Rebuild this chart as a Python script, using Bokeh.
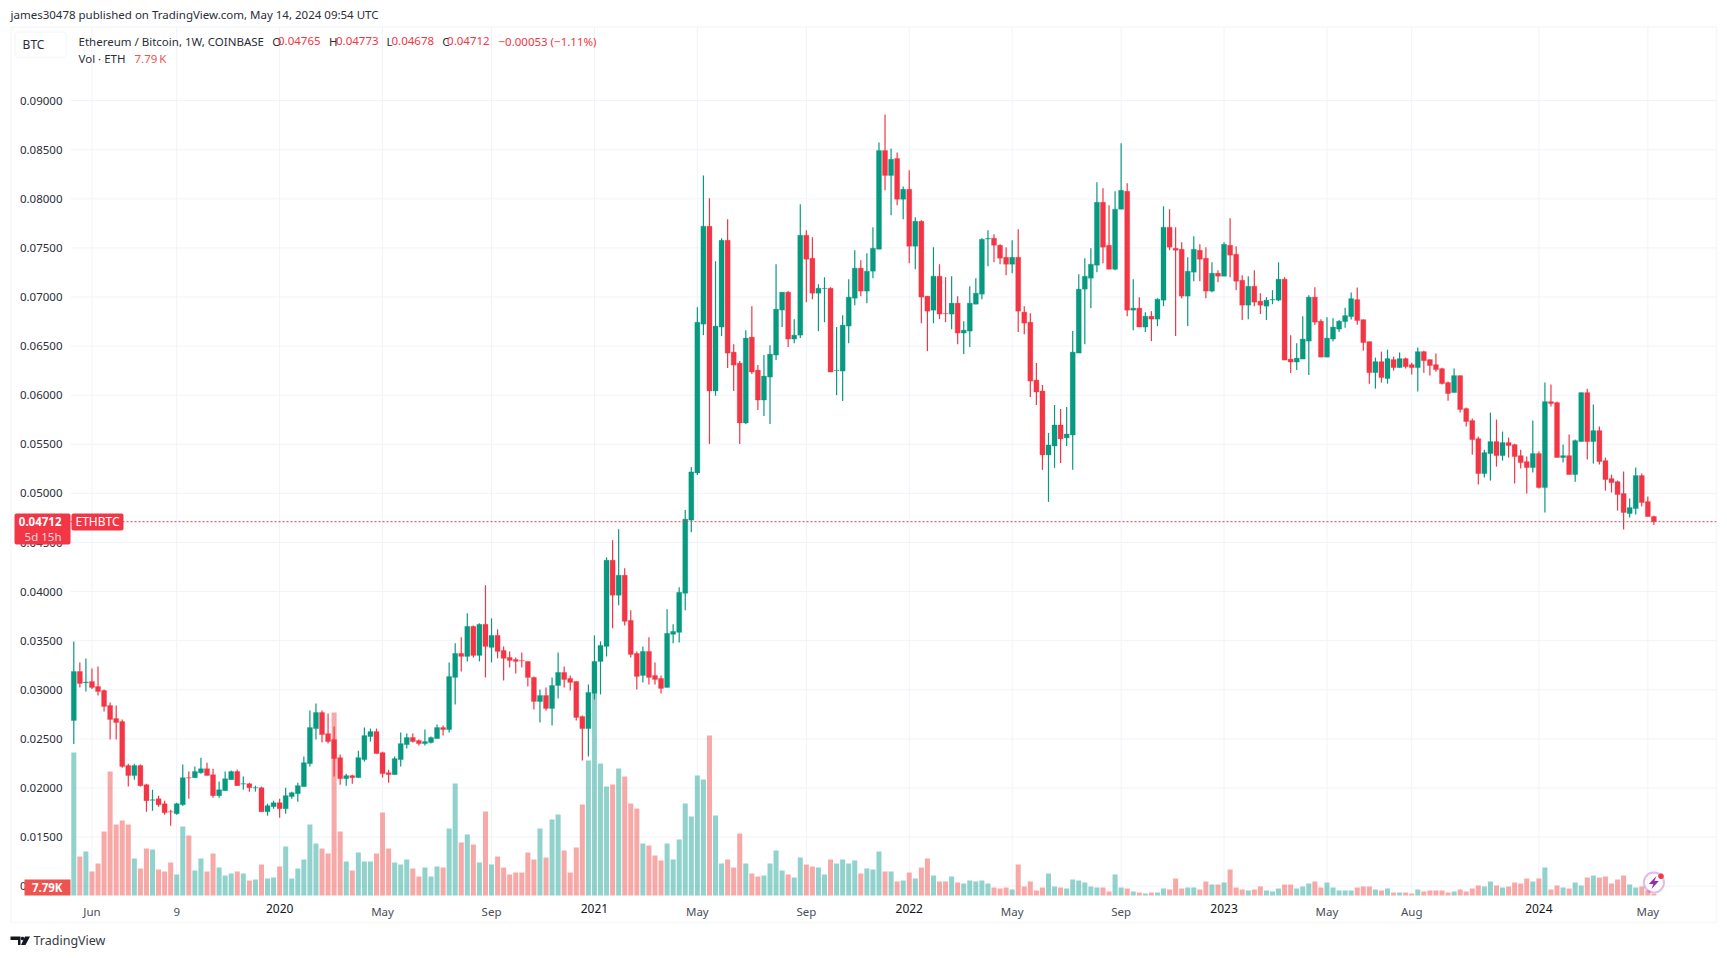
import numpy as np
from bokeh.plotting import figure
from bokeh.models import (Range1d, LinearAxis, FixedTicker, NumeralTickFormatter, Label,
                          BoxAnnotation, PolyAnnotation, ColumnDataSource)
from bokeh.embed import file_html
from bokeh.resources import INLINE

# Weekly ETH/BTC, 2019-05-13 to 2024-05-13, prices in units of 0.0001 BTC
open_ = [268.7,318.7,307.3,308.5,303.4,299.3,284,270.7,267.7,222.8,
212.6,222.8,203.4,187.5,189.1,184,175.8,173.8,183,210.5,
210.5,215.6,219.7,213.6,192.2,197.3,208.5,216.7,204,204.4,
200,200.3,175.8,181,185,178.9,191.2,194.2,201.4,224.8,
260.5,276.9,255.4,249.3,230.9,209.5,212.6,210.5,228.9,252.4,
257.5,236,215.6,213.6,228.9,244.2,251.4,248.3,245.2,246.3,
250.3,261.6,259.5,312.6,337.1,334,364.6,335,366.7,343.2,
355.4,340.1,333,330.9,329.7,328.9,312.6,288.1,294.2,281,
304.4,317.7,311.6,308.5,272.8,260.5,296.3,328.9,344.2,432,
396.3,416.7,370.7,337.1,314.6,339.1,314.6,311.6,302.4,356.5,
358.5,398.3,472.8,520.9,672.4,772.1,604.3,669.4,757.8,643.9,
632.7,571.7,659.2,625.6,595.1,618.5,640.9,686.7,705,657.2,
661.2,762.9,739.5,703.9,708.5,709,625,624.6,670.4,698.8,
729.4,706,726.3,748.7,849.3,823.9,841.2,799.5,809.7,751.7,
777.1,700.9,686.6,721.2,683.3,682.6,693.8,663.3,665.3,692.7,
702.9,759,759.9,752.7,740.5,733.4,740.5,684.6,674.4,615.4,
604.3,539.2,548.3,569.7,556.5,559.5,642.9,708,719.2,732.4,
796.5,752.7,728.3,789.4,807.7,686.6,688.7,669.4,680.5,677.5,
696.8,771.1,749.7,748.7,700.9,725.3,747.6,739.5,706,724.3,
721.2,752.7,743.6,717.1,691.7,711,695.8,690.7,697,696.8,
718.2,636.8,633.8,636.8,655.1,699.9,675.4,638.8,657.2,667.3,
675,680,697.4,677,654.6,623,634.2,617,636.3,628.1,
637.3,631.2,628.1,644.4,636.3,631.2,627.1,612.9,602.7,620,
586.4,574.2,555.8,520.2,540.6,552.8,538.5,551.8,549.7,538.5,
532.4,526.3,540.6,506,593.5,592.5,536.5,538.5,519.2,552.8,
602.7,552.8,564,533.4,515.1,512,499.9,479.5,484.6,518.2,
491.7,476.5]
high = [349.3,327.9,331.9,321.8,323.8,300.3,287.1,284,269.7,224.8,
224.8,223.8,204.4,198.3,192.2,187.1,177.9,185,223.8,216.7,
221.8,230.9,225.8,219.7,206.5,216.7,217.7,218.7,211.6,205.4,
202.4,201.4,184,187.1,189.1,200.3,196.3,205.4,232,278.9,
286,278.9,275.8,262.6,234,214.6,213.6,238,261.6,260.5,
260.5,237,218.7,232,256.5,255.4,255.4,249.3,259.5,252.4,
264.6,263.6,327.9,347.3,353.4,377.9,365.6,367.7,406.5,372.8,
361.6,344.2,339.1,333,338,328.9,313.6,300.3,302.4,312.6,
338,323.8,314.6,308.5,273.8,305.4,355.4,349.3,435,452.4,
463.6,423.8,380.9,339.1,344.2,353.4,327.9,314.6,382,366.7,
404.4,483,527,689.7,823.9,800.5,736.5,759.9,779.2,652,
634.8,666.3,690.7,630.7,640.9,651,733.4,705,706,677.5,
794.4,768,760.9,713,720.2,710,669.4,681.5,718.2,747.6,
737.5,744.6,771.1,857.5,886,851.4,847.3,812.7,829,781.2,
778.2,700.9,750.7,733.4,720.2,721.2,700.9,675.4,711,719.2,
759.9,768,764,753.8,750.7,757.8,769,690.7,683.6,632.7,
610.4,561.6,590,586,588,665.3,723.3,739.5,749.7,816.8,
810.7,793.4,807.7,856.5,815.8,718.2,699.9,684.6,685.6,698.8,
792.4,789.4,771.1,755.8,740.5,761.9,753.8,750.7,735.4,727.3,
755.8,780.2,751.7,722.2,721.2,727.3,703.9,699.9,707,735.4,
720.2,661.2,653,680.5,701.9,710,677.5,679.5,678.5,676.5,
689.2,704.5,709.6,677,654.6,638.3,644.4,646.4,639.3,643.4,
638.3,633.2,648.5,645.4,636.3,642.4,628.1,613.9,627.1,620,
587.4,576.2,557.9,544.6,582.3,575.2,563,556.9,550.7,544.6,
537.5,574.2,542.6,612.9,610.8,593.5,549.7,559.9,554.8,602.7,
606.7,590.5,568.1,536.5,519.2,513.1,522.2,494.8,526.3,520.2,
496.8,477.3]
low = [244.9,302.4,298.3,300.7,294.2,277.9,249.3,249.3,220.7,201.4,
208.5,201.4,175.8,176.9,180.9,172.8,161.6,172.8,181.9,189.1,
210.5,214.6,212.6,190.1,190.1,197.3,208.5,202.4,198.3,196.3,
196.3,175.8,171.8,178.9,169.7,173.8,189.1,186.1,201.4,221.8,
249.3,246.3,245.3,211.6,203.4,202.4,204.4,210.5,226.9,247.3,
235,210.5,205.4,213.6,221.8,240.1,246.3,243.2,243.2,245.2,
250.3,253.4,256.5,285,318.7,328.9,333,328.9,312.6,327.9,
332,309.5,322.8,316.7,322.8,303.4,279.9,266.7,278.9,263.6,
291.2,302.4,299.3,268.7,227.9,232,290.1,295.2,334,362.6,
386.1,365.6,333,300.3,307.5,305.4,305.4,296.3,302.4,347.3,
348.3,380.9,460.5,518.8,661.2,550.4,599.5,660.2,627.7,604.3,
550.4,570.7,621.6,584.9,578.8,570.7,635.8,669.4,649,653,
658.2,694.8,697.8,665.3,674.4,623.6,600.2,594.1,653,691.7,
700.9,693.8,719.2,748.7,808.7,783.3,793.4,779.2,734.4,728.3,
673.4,644.9,673.4,677.5,674.4,667.3,652,641.9,649,692.7,
697.8,731.4,735.4,733.4,722.2,724.3,664.3,662.2,598.2,590,
524,491.4,526,531,548.3,524,642.9,652,688.7,725.3,
734.4,728.3,727.3,789.4,680.5,666.3,669.4,664.3,655.1,670.4,
690.7,747.6,660.2,698.8,670.4,716.1,716.1,698.8,704.9,715.1,
721.2,720.2,707,676.5,677.5,690.7,682.6,676.5,692.7,695.8,
635.8,622.6,625.6,636.8,620.5,671.4,638.8,638.8,655.1,664.3,
668.8,677,671.9,645.4,611.8,606.7,612.9,611.8,625,628.1,
627.1,621,603.7,623,620,624,610.8,594.5,602.7,582.3,
568.1,539.5,509,516.1,513.1,527.3,533.4,536.5,510,525.3,
499.9,521.2,505,480.5,588.4,536.5,531.4,519.2,512,552.8,
534.5,530.4,529.4,502.9,500.9,482.5,463.2,475.4,478.5,486.6,
476.4,467.8]
close = [318.7,306.5,308,302.4,298.3,283,269.7,266.6,221.8,212.6,
222.8,202.4,187.1,188,183,174.8,175.5,184,210.5,210.2,
216.7,219.7,212.6,192.2,198.3,209.5,216.7,202.4,204.4,200.3,
200.3,175.8,182,185,178.9,192.2,195.2,202.4,225.8,261.6,
276.9,254.4,247.3,229.9,209.5,212.6,210.5,230.9,253.4,257.5,
235,214.6,213.6,229.9,245.2,251.4,247.3,245.2,247.3,251.4,
261.6,259.5,313.6,337.1,334,364.6,335,366.7,344.2,355.4,
339.1,332,329.9,328.9,329.4,312.6,288.1,294.2,281,304.4,
317.7,310.5,307.5,271.8,260.5,297.3,328.9,345.2,432,396.3,
416.7,369.7,336,313.6,339.1,312.6,310.5,301.4,357.5,359.5,
399.3,473.8,521.9,674.4,772.1,604.3,670.4,757.8,642.9,630.7,
571.7,658.2,623.6,595.1,619.5,641.9,687.7,705,657.2,661.2,
762.9,738.5,703.9,709,708.8,623.6,625.3,671.4,699.9,729.4,
706,726.3,749.7,849.3,823.9,840.2,799.5,809.7,751.7,777.1,
699.9,685.6,721.2,682.6,683,693.8,663.3,666.3,693.8,703.9,
758.8,759.5,752.7,739.5,733.4,740.5,685.6,673.4,614.4,603.3,
539.2,549.3,569.7,555.5,560.5,643.9,708,721.2,733.4,796.5,
750.7,728.3,789.4,808.7,686.6,688.7,669.4,680.5,677.5,697.8,
771.1,750.7,747.6,700.9,726.3,748.7,738.5,706,724.3,721.2,
753.8,742.6,716.1,691.7,711,694.8,691.7,696.8,697.5,718.2,
635.8,633.8,637.8,657.2,699.9,674.4,638.8,658.2,669.4,675.4,
681.1,698.4,676,653.6,623,634.2,618,637.3,628.1,637.3,
629.1,628.1,644.4,635.2,630.2,626.1,611.8,601.7,620,585.4,
573.2,554.8,520.2,541.6,552.8,538.5,551.8,548.7,537.5,531.4,
526.3,540.6,506,593.5,591.5,536.5,538.5,519.2,553.8,602.7,
552.8,564,532.4,514.1,511,498.8,480.5,485.6,518.2,490.7,
476.4,471.2]
# Weekly volume, thousands of ETH
volume_k = [643.5,175.5,198,108,144,288,558,319.5,337.5,319.5,
166.5,121.5,211.5,207,117,108,148.5,94.5,310.5,270,
112.5,166.5,108,189,126,90,99,108,99,67.5,
72,139.5,76.5,81,130.5,220.5,76.5,121.5,162,319.5,
234,211.5,189,823.5,288,153,112.5,193.5,153,153,
189,373.5,211.5,148.5,139.5,162,121.5,85.5,126,85.5,
130.5,126,301.5,504,238.5,274.5,229.5,148.5,378,139.5,
175.5,126,94.5,103.5,103.5,193.5,162,301.5,171,342,
364.5,202.5,103.5,216,409.5,607.5,909,594,490.5,499.5,
571.5,535.5,414,391.5,234,225,180,157.5,234,162,
252,414,355.5,540,522,720,360,144,162,126,
279,144,99,85.5,90,144,202.5,112.5,94.5,81,
171,139.5,130.5,126,94.5,162,144,162,144,157.5,
99,121.5,117,198,108,108,63,67.5,103.5,76.5,
126,166.5,90,63,63,85.5,58.5,54,67.5,63,
67.5,54,36,31.5,36,27,139.5,40.5,63,22.5,
36,99,40.5,36,31.5,72,67.5,58.5,40.5,36,
36,18,94.5,36,31.5,18,13.5,9,13.5,13.5,
31.5,27,76.5,31.5,36,36,27,63,49.5,49.5,
58.5,117,36,27,22.5,27,40.5,22.5,18,31.5,
49.5,49.5,31.5,40.5,54,63,36,58.5,36,22.5,
22.5,22.5,36,40.5,40.5,27,22.5,31.5,13.5,13.5,
13.5,9,27,18,22.5,22.5,22.5,13.5,18,27,
18,31.5,45,40.5,63,45,36,40.5,58.5,54,
76.5,63,76.5,126,27,45,36,31.5,58.5,45,
81,90,81,85.5,54,72,90,49.5,36,40.5,
22.5,7.79]
month_ticks = [3, 17, 51, 69, 103, 121, 155, 173, 207, 221, 260]
month_labels = ["Jun", "9", "May", "Sep", "May", "Sep", "May", "Sep", "May", "Aug", "May"]
year_ticks = [34, 86, 138, 190, 242]
year_labels = ["2020", "2021", "2022", "2023", "2024"]
price_ticks = [0.01, 0.015, 0.02, 0.025, 0.03, 0.035, 0.04, 0.045, 0.05, 0.055,
               0.06, 0.065, 0.07, 0.075, 0.08, 0.085, 0.09]
last_price = 0.04712

UP, DOWN = "#089981", "#f23645"
FONT = "Noto Sans"
GRID = "#f0f3fa"
EDGE = "#e9ecf3"
TEXT = "#2a2e39"

o, h, l, c = [np.array(a) * 1e-4 for a in (open_, high, low, close)]
idx = np.arange(len(o))
up = c >= o
src = ColumnDataSource(dict(
    x=idx, o=o, h=h, l=l, c=c, top=np.maximum(o, c), bot=np.minimum(o, c), vol=volume_k,
    color=[UP if u else DOWN for u in up],
    vcolor=["#26a69a" if u else "#ef5350" for u in up],
))

# The plot frame spans the whole page, so that annotations can sit anywhere on it;
# the pane itself is bounded by these limits.
X0, X1 = -0.545, 271.34
Y0, Y1 = 0.00905, 0.09745

p = figure(frame_width=1727, frame_height=950, output_backend="svg", toolbar_location=None,
           x_range=Range1d(-12.108, 273.16), y_range=Range1d(0.00345, 0.10020),
           min_border=0, outline_line_color=None, background_fill_color="white")
p.extra_y_ranges = {"vol": Range1d(-247.5, 4027.5)}
p.grid.visible = False

all_x = sorted(month_ticks + year_ticks)
p.segment(x0=all_x, x1=all_x, y0=Y0, y1=Y1, line_color=GRID, line_width=1, level="underlay")
p.segment(x0=X0, x1=X1, y0=price_ticks, y1=price_ticks, line_color=GRID, line_width=1, level="underlay")

p.vbar(x="x", top="vol", bottom=0, width=0.83, y_range_name="vol", source=src,
       fill_color="vcolor", fill_alpha=0.5, line_color=None)
p.segment(x0="x", x1="x", y0="l", y1="h", line_color="color", line_width=1.2, source=src)
p.vbar(x="x", top="top", bottom="bot", width=0.83, fill_color="color", line_color="color",
       line_width=0.3, source=src)
p.line([X0, X1], [last_price, last_price], line_color=DOWN, line_width=1, line_dash=[2, 2])

def style_axis(ax):
    ax.axis_line_color = None
    ax.major_tick_line_color = None
    ax.minor_tick_line_color = None
    ax.major_tick_in = 0
    ax.major_tick_out = 0
    ax.minor_tick_in = 0
    ax.minor_tick_out = 0
    ax.major_label_text_font = FONT
    ax.major_label_text_font_size = "11.5px"

xa = p.xaxis[0]
xa.ticker = FixedTicker(ticks=month_ticks)
xa.major_label_overrides = dict(zip(month_ticks, month_labels))
xa.major_label_standoff = 8
xa.fixed_location = Y0
style_axis(xa)
xa.major_label_text_color = "#4a4e59"

xb = LinearAxis(ticker=FixedTicker(ticks=year_ticks),
                major_label_overrides=dict(zip(year_ticks, year_labels)),
                fixed_location=Y0, major_label_standoff=8)
style_axis(xb)
xb.major_label_text_color = "#131722"
xb.major_label_text_font_size = "12px"
p.add_layout(xb, "below")

ya = p.yaxis[0]
ya.ticker = FixedTicker(ticks=price_ticks)
ya.formatter = NumeralTickFormatter(format="0.00000")
ya.major_label_standoff = 8
ya.fixed_location = X0
style_axis(ya)
ya.major_label_text_color = TEXT

def txt(x, y, s, color=TEXT, size="11.5px", style="normal", align="left"):
    p.add_layout(Label(x=x, y=y, x_units="canvas", y_units="canvas", text=s,
                       text_color=color, text_font=FONT, text_font_size=size,
                       text_font_style=style, text_baseline="middle", text_align=align))

def box(x0, y0, x1, y1, fill, line=None, lw=0, radius=0):
    p.add_layout(BoxAnnotation(left=x0, right=x1, top=y0, bottom=y1,
                               left_units="canvas", right_units="canvas",
                               top_units="canvas", bottom_units="canvas",
                               fill_color=fill, fill_alpha=1 if fill else 0, line_color=line,
                               line_width=lw, border_radius=radius, level="annotation"))

def poly(xs, ys, fill, line=None, lw=0):
    p.add_layout(PolyAnnotation(xs=list(xs), ys=list(ys), xs_units="canvas", ys_units="canvas",
                                fill_color=fill, fill_alpha=1 if fill else 0,
                                line_color=line, line_width=lw))

# pane border
box(10.5, 26.5, 1716, 922, None, EDGE, 2)
# symbol button
box(14.5, 31.5, 66, 57, "white", EDGE, 2, 4)
txt(33, 43.5, "BTC", align="center", size="12px")
# header
txt(10, 13.5, "james30478 published on TradingView.com, May 14, 2024 09:54 UTC", size="11.5px")
txt(78, 40.5, "Ethereum / Bitcoin, 1W, COINBASE")
for lx, ls, vx, vs in [(271.7, "O", 277.5, "0.04765"), (328.5, "H", 335.5, "0.04773"),
                       (386, "L", 391, "0.04678"), (441.7, "C", 446.6, "0.04712")]:
    txt(lx, 40.5, ls)
    txt(vx, 40.5, vs, color=DOWN)
txt(498, 40.5, "\u22120.00053 (\u22121.11%)", color=DOWN)
txt(78, 57.5, "Vol \u00b7 ETH")
txt(134, 57.5, "7.79\u2009K", color="#ef5350")

# last price tags
box(14, 513, 70, 544, DOWN, None, 0, 2)
box(71, 513, 123, 530, DOWN, None, 0, 2)
txt(61, 521, "0.04712", color="white", style="bold", align="right")
txt(61, 535.5, "5d 15h", color="#fbd7da", align="right")
txt(75, 521, "ETHBTC", color="white", size="12px")
box(24, 879, 70, 895, "#ef5350")
txt(62, 887, "7.79K", color="white", style="bold", align="right")

# alert icon
cx, cy = 1653.4, 882
t = np.linspace(0, 2 * np.pi, 49)[:-1]
poly(cx + 10 * np.cos(t), cy + 10 * np.sin(t), None, "#9c27b0", 2.2)
poly([cx + d for d in (2.5, -5, -0.5, -2.5, 5, 0.5)], [cy + d for d in (-6.5, 1.5, 1.5, 6.5, -1.5, -1.5)], "#9c27b0")
poly(1660.5 + 2.8 * np.cos(t), 875.7 + 2.8 * np.sin(t), DOWN)

# TradingView logo
poly([10, 20, 20, 17.5, 17.5, 14, 14, 10], [936, 936, 944.5, 944.5, 939.5, 939.5, 939.5, 939.5], "#131722")
poly([24.5, 29.5, 25, 20.5], [936, 936, 944.5, 944.5], "#131722")
poly(22 + 1.8 * np.cos(t), 938 + 1.8 * np.sin(t), "#131722")
txt(33, 940, "TradingView", color="#363a45", size="12.5px")

open("out.html", "w").write(file_html(p, INLINE))
